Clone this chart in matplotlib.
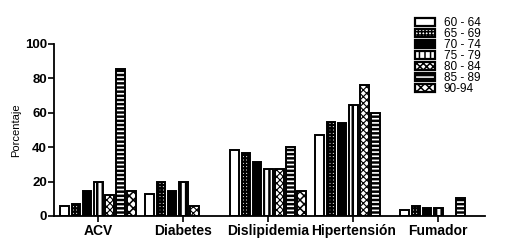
import numpy as np
import matplotlib
matplotlib.use("Agg")
import matplotlib.pyplot as plt
import matplotlib.patches as mpatches

plt.rcParams['font.family'] = ['Liberation Sans', 'DejaVu Sans']

categories = ['ACV', 'Diabetes', 'Dislipidemia', 'Hipertensión', 'Fumador']
age_groups = ['60 - 64', '65 - 69', '70 - 74', '75 - 79', '80 - 84', '85 - 89', '90-94']

nan = np.nan
v_60_64 = [6, 13, 38.4, 47, 3.5]
v_65_69 = [7, 19.8, 36.8, 54.5, 5.8]
v_70_74 = [14.5, 14.5, 31.4, 53.9, 4.6]
v_75_79 = [20, 19.8, 27.5, 64.5, 4.6]
v_80_84 = [12.2, 6, 27.5, 76.2, nan]
v_85_89 = [85.5, nan, 40.3, 60, 10.3]
v_90_94 = [14.5, nan, 14.5, nan, nan]
series = [v_60_64, v_65_69, v_70_74, v_75_79, v_80_84, v_85_89, v_90_94]

# face colour, hatch, hatch colour, hatch line width
styles = [
    ('white', None, 'black', 1.0),
    ('white', '+++++', 'black', 1.6),
    ('black', None, 'black', 1.0),
    ('white', '|||', 'black', 1.8),
    ('white', 'xxxxx', 'black', 0.8),
    ('black', '----', 'white', 1.2),
    ('white', 'xxxx', 'black', 1.1),
]

fig = plt.figure(figsize=(5.23, 2.44), dpi=100)
ax = fig.add_axes([0.103, 0.115, 0.824, 0.705])

x = np.arange(len(categories))
slot = 0.13
width = 0.105
handles = []
for i, (vals, (fc, hatch, hc, hlw)) in enumerate(zip(series, styles)):
    plt.rcParams['hatch.linewidth'] = hlw
    pos = x + (i - 3) * slot
    ax.bar(pos, vals, width, color=fc, edgecolor=hc, hatch=hatch, linewidth=0)
    ax.bar(pos, vals, width, color='none', edgecolor='black', linewidth=1.4)
    handles.append((mpatches.Patch(facecolor=fc, edgecolor=hc, hatch=hatch, linewidth=0),
                    mpatches.Patch(facecolor='none', edgecolor='black', linewidth=1.6)))

ax.set_xlim(-0.52, 4.55)
ax.set_ylim(0, 100)
ax.set_yticks([0, 20, 40, 60, 80, 100])
ax.set_xticks(x)
ax.set_xticklabels(categories, fontsize=10, fontweight='bold')
for lab in ax.get_yticklabels():
    lab.set_fontweight('bold')
ax.tick_params(axis='y', labelsize=9.5, length=4, width=1.2, pad=1)
ax.tick_params(axis='x', length=4, width=1.2, pad=2)
ax.set_ylabel('Porcentaje', fontsize=8, labelpad=3)
for s in ['top', 'right']:
    ax.spines[s].set_visible(False)
for s in ['left', 'bottom']:
    ax.spines[s].set_linewidth(1.3)

fig.legend(handles, age_groups, loc='upper left', bbox_to_anchor=(0.783, 0.955),
           frameon=False, fontsize=8.5, handlelength=1.7, handleheight=0.65,
           labelspacing=-0.08, handletextpad=0.7, borderpad=0)

fig.savefig('out.png', dpi=100)
